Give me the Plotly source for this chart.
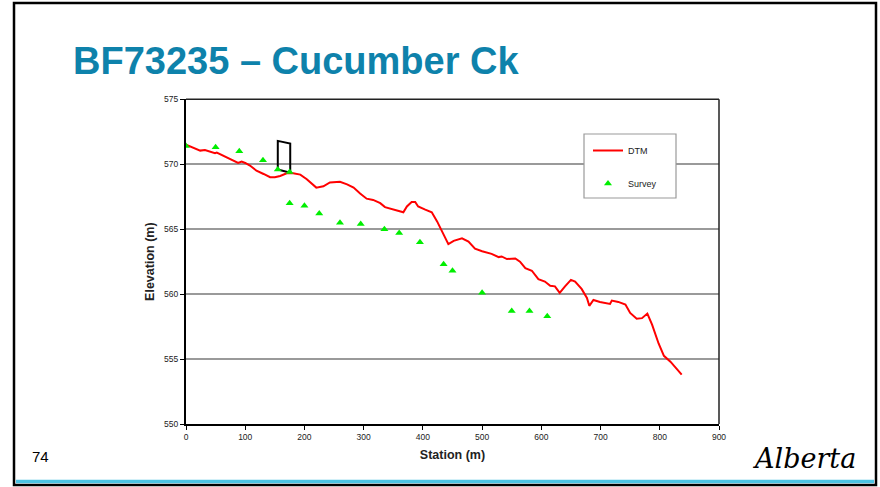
import plotly.graph_objects as go

W, H = 880, 487

# ---- data ----
dtm_station = [0, 12, 24, 32, 40, 49, 52, 63, 74, 88, 94, 100, 108, 119, 131, 142, 150, 159, 170, 181,
               193, 204, 220, 232, 243, 260, 272, 283, 294, 305, 316, 328, 336, 350, 367, 373, 381, 387,
               392, 404, 415, 424, 435, 443, 452, 466, 477, 488, 500, 516, 528, 533, 542, 556, 564, 573,
               584, 595, 606, 615, 623, 631, 640, 650, 657, 668, 677, 681, 688, 699, 716, 719, 730, 742,
               750, 761, 770, 779, 787, 798, 807, 818, 837]
dtm_elev = [571.5, 571.3, 571.05, 571.1, 570.97, 570.85, 570.9, 570.65, 570.4, 570.1, 570.2, 570.1,
            569.9, 569.5, 569.25, 569.0, 569.0, 569.1, 569.3, 569.3, 569.2, 568.85, 568.2, 568.3, 568.6,
            568.65, 568.45, 568.2, 567.75, 567.35, 567.25, 567.0, 566.7, 566.5, 566.3, 566.75, 567.1,
            567.1, 566.75, 566.5, 566.3, 565.6, 564.55, 563.85, 564.1, 564.3, 564.05, 563.5, 563.3,
            563.1, 562.85, 562.9, 562.7, 562.75, 562.5, 562.0, 561.8, 561.15, 560.97, 560.65, 560.6,
            560.1, 560.6, 561.1, 560.97, 560.4, 559.7, 559.1, 559.55, 559.4, 559.25, 559.5, 559.4,
            559.2, 558.55, 558.1, 558.15, 558.5, 557.65, 556.2, 555.25, 554.8, 553.8]

survey_station = [0, 50, 90, 130, 155, 175, 175, 200, 225, 260, 295, 335, 360, 395, 435, 450, 500, 550, 580, 610]
survey_elev = [571.4, 571.3, 571.0, 570.3, 569.6, 569.4, 567.0, 566.8, 566.2, 565.5, 565.4, 565.0,
               564.7, 564.0, 562.3, 561.8, 560.1, 558.7, 558.7, 558.3]

bridge_station = [155, 155, 176, 176, 155]
bridge_elev = [569.6, 571.8, 571.6, 569.35, 569.6]

x_ticks = [0, 100, 200, 300, 400, 500, 600, 700, 800, 900]
y_ticks = [550, 555, 560, 565, 570, 575]

title_text = "BF73235 – Cucumber Ck"
x_title = "Station (m)"
y_title = "Elevation (m)"
slide_number = "74"

FONT = "Arial, Liberation Sans, sans-serif"


def px(x):
    return x / W


def py(y):
    return 1 - y / H


fig = go.Figure()
fig.add_trace(go.Scatter(x=bridge_station, y=bridge_elev, mode="lines",
                         line=dict(color="black", width=2), showlegend=False,
                         hoverinfo="skip"))
fig.add_trace(go.Scatter(x=dtm_station, y=dtm_elev, mode="lines", name="DTM",
                         line=dict(color="#ff0000", width=2), legendgroup="a"))
fig.add_trace(go.Scatter(x=survey_station, y=survey_elev, mode="markers", name="Survey",
                         marker=dict(symbol="triangle-up", size=7, color="#00ee00"),
                         legendgroup="b"))

fig.update_layout(
    width=W, height=H,
    margin=dict(l=0, r=0, t=0, b=0),
    paper_bgcolor="white", plot_bgcolor="white",
    font=dict(family=FONT, color="#222222"),
    xaxis=dict(domain=[px(186), px(719)], range=[0, 900], tickvals=x_ticks,
               showgrid=False, zeroline=False, showline=True, linecolor="black", linewidth=2,
               ticks="outside", ticklen=4, tickcolor="black", tickwidth=1,
               tickfont=dict(size=8.5, color="#222222"), automargin=False,
               title=dict(text=x_title, font=dict(size=12.5, color="#222222", weight=700), standoff=9)),
    yaxis=dict(domain=[py(424), py(99.3)], range=[550, 575], tickvals=y_ticks,
               showgrid=True, gridcolor="#9a9a9a", gridwidth=1.5, zeroline=False,
               showline=True, linecolor="black", linewidth=2,
               ticks="outside", ticklen=4, tickcolor="black", tickwidth=1,
               tickfont=dict(size=8.5, color="#222222"), automargin=False,
               title=dict(text=y_title, font=dict(size=12.5, color="#222222", weight=700), standoff=7)),
    legend=dict(x=px(588), y=py(136), xanchor="left", yanchor="top",
                bgcolor="rgba(0,0,0,0)", borderwidth=0,
                font=dict(size=9, color="#222222", family=FONT), tracegroupgap=14,
                itemwidth=30),
    showlegend=True,
)

shapes = [
    # top and right frame of plot area (thin)
    dict(type="line", xref="paper", yref="paper", x0=px(186), x1=px(719), y0=py(99.3), y1=py(99.3),
         line=dict(color="#222222", width=1.5)),
    dict(type="line", xref="paper", yref="paper", x0=px(719), x1=px(719), y0=py(99.3), y1=py(424),
         line=dict(color="#222222", width=1.5)),
    # legend box
    dict(type="rect", xref="paper", yref="paper", x0=px(584), x1=px(676), y0=py(134), y1=py(198),
         line=dict(color="#9a9a9a", width=1.2), fillcolor="white", layer="above"),
    # slide border
    dict(type="rect", xref="paper", yref="paper", x0=px(14), x1=px(876), y0=py(3), y1=py(485),
         line=dict(color="black", width=2.5), fillcolor="rgba(0,0,0,0)", layer="above"),
    # blue bottom band
    dict(type="line", xref="paper", yref="paper", x0=px(16), x1=px(874), y0=py(481.5), y1=py(481.5),
         line=dict(color="#4cc3e3", width=3.5), layer="above"),
]
fig.update_layout(shapes=shapes)

annotations = [
    dict(text=title_text, xref="paper", yref="paper", x=px(71), y=py(61), xanchor="left",
         yanchor="middle", showarrow=False,
         font=dict(family=FONT, size=38, color="#0e82ab", weight=700)),
    dict(text=slide_number, xref="paper", yref="paper", x=px(40), y=py(456), xanchor="center",
         yanchor="middle", showarrow=False, font=dict(family=FONT, size=15, color="black")),
    dict(text="<i>Alberta</i>", xref="paper", yref="paper", x=px(804), y=py(458), xanchor="center",
         yanchor="middle", showarrow=False,
         font=dict(family="DejaVu Serif, serif", size=27, color="black")),
]
fig.update_layout(annotations=annotations)

fig.write_html("out.html", config={"displayModeBar": False},
               post_script="document.body.style.margin='0';document.body.style.overflow='hidden';")
